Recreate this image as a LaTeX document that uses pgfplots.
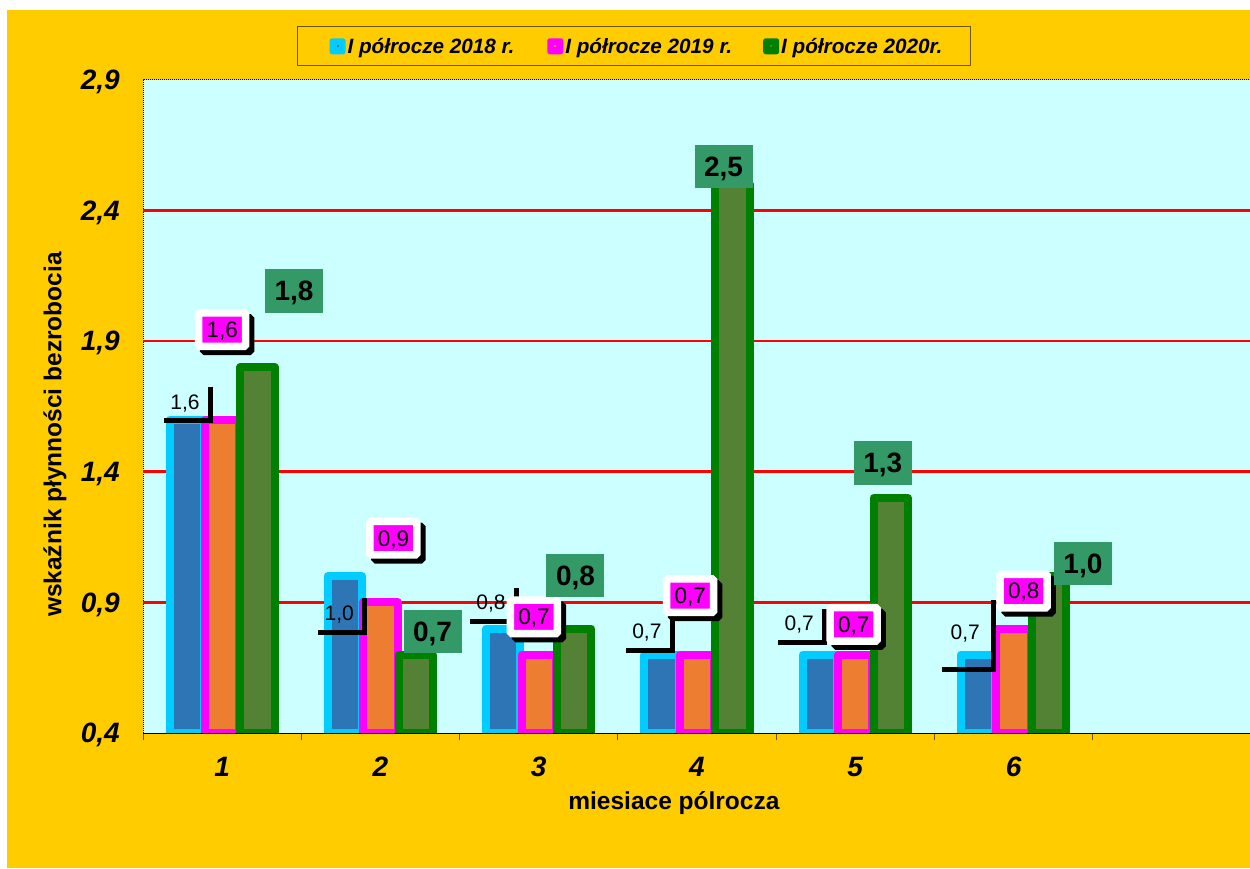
\documentclass[border=0pt]{standalone}
\usepackage{fontspec}
\setmainfont{Liberation Sans}
\usepackage{pgfplots}
\usepackage{pgfplotstable}
\pgfplotsset{compat=1.18}
\usetikzlibrary{shadows}

\definecolor{bgyellow}{HTML}{FFCC00}
\definecolor{plotbg}{HTML}{CCFFFF}
\definecolor{cyanB}{HTML}{00CCFF}
\definecolor{blueF}{HTML}{2E75B6}
\definecolor{magB}{HTML}{FF00FF}
\definecolor{orangeF}{HTML}{ED7D31}
\definecolor{greenB}{HTML}{008000}
\definecolor{greenF}{HTML}{548235}
\definecolor{labgreen}{HTML}{339966}
\definecolor{legborder}{HTML}{6B5500}

% 2018
\pgfplotstableread{
x y lab dx dy bw bh
1 1.6 1,6 -1.8 17.8 44 31
2 1.0 1,0 -5.8 -36.9 44 31
3 0.8 0,8 -12.3 26.0 44 31
4 0.7 0,7 -14.7 23.1 44 31
5 0.7 0,7 -20.7 31.4 44 31
6 0.7 0,7 -12.9 22.4 49 67
}\tA
% 2019
\pgfplotstableread{
x y lab dx dy
1 1.6 1,6 0.0 89.9
2 0.9 0,9 13.0 64.2
3 0.7 0,7 -4.8 37.8
4 0.7 0,7 -6.8 58.9
5 0.7 0,7 -1.6 30.3
6 0.8 0,8 10.2 37.5
}\tB
% 2020
\pgfplotstableread{
x y lab dx dy
1 1.8 1,8 36.5 76.3
2 0.7 0,7 16.7 23.1
3 0.8 0,8 1.4 52.8
4 2.5 2,5 -8.8 17.8
5 1.3 1,3 -7.9 34.9
6 1.0 1,0 34.0 13.0
}\tC

\begin{document}
\begin{tikzpicture}
\useasboundingbox (0,0) rectangle (1250pt,868pt);
\fill[white] (0,0) rectangle (1250pt,868pt);
\fill[bgyellow] (7pt,0) rectangle (1250pt,858pt);
\begin{axis}[
  at={(143pt,135pt)}, anchor=south west,
  scale only axis, width=1108pt, height=653pt,
  xmin=0.5, xmax=7.5, ymin=0.4, ymax=2.9,
  ybar, bar width=0.2167,
  axis background/.style={fill=plotbg},
  axis line style={black, line width=1pt, dash pattern=on 1pt off 1pt},
  tick align=outside,
  major tick length=0pt,
  minor tick length=7pt,
  xtick pos=left, ytick pos=left,
  xtick={1,2,3,4,5,6}, xticklabels={1,2,3,4,5,6},
  minor xtick={0.5,1.5,2.5,3.5,4.5,5.5,6.5,7.5},
  minor tick style={legborder, line width=1pt, solid},
  ytick={0.4,0.9,1.4,1.9,2.4,2.9},
  extra y ticks={0.9,1.4,1.9,2.4},
  extra y tick labels={},
  extra y tick style={grid=major},
  major grid style={red, line width=2.6pt, solid},
  /pgf/number format/assume math mode=true,
  yticklabel style={font=\bfseries\itshape\fontsize{28}{30}\selectfont, inner sep=0pt, xshift=-23pt, text depth=0pt,
    /pgf/number format/use comma, /pgf/number format/fixed, /pgf/number format/fixed zerofill, /pgf/number format/precision=1},
  xticklabel style={font=\bfseries\itshape\fontsize{28}{30}\selectfont, inner sep=0pt, anchor=north, yshift=-24pt, text depth=0pt},
  xlabel={miesiace pólrocza},
  ylabel={wskaźnik płynności bezrobocia},
  every axis x label/.style={at={(axis description cs:0.4792,-0.1179)}, anchor=base, font=\bfseries\fontsize{24.5}{26}\selectfont},
  every axis y label/.style={at={(axis description cs:-0.0737,0.4571)}, anchor=base, rotate=90, font=\bfseries\fontsize{24.5}{26}\selectfont},
  legend columns=3,
  legend style={at={(axis description cs:0.139,1.0827)}, anchor=north west, draw=legborder, line width=1pt, fill=bgyellow,
    inner xsep=0pt, inner ysep=7.5pt, column sep=0pt,
    font=\bfseries\itshape\fontsize{20.7}{22}\selectfont,
    nodes={inner sep=0pt, text height=19.3pt, text depth=4.3pt}},
]
\addplot[draw=cyanB, fill=blueF, line width=8pt, line join=round, bar shift=-0.2236,
  legend image code/.code={\path[draw=none,fill=none] (0pt,0pt) -- (50pt,0pt);
    \path[draw=none, fill=cyanB, rounded corners=2.5pt] (32pt,-8.5pt) rectangle (48pt,7.5pt);
    \path[draw=none, fill=blueF] (39pt,-1.5pt) rectangle (41pt,0.5pt);}]
  table[x=x,y=y]{\tA};
\addlegendentry{I półrocze 2018 r.}
\addplot[draw=magB, fill=orangeF, line width=8pt, line join=round, bar shift=0,
  legend image code/.code={\path[draw=none,fill=none] (0pt,0pt) -- (51pt,0pt);
    \path[draw=none, fill=magB, rounded corners=2.5pt] (33pt,-8.5pt) rectangle (49pt,7.5pt);
    \path[draw=none, fill=orangeF] (40pt,-1.5pt) rectangle (42pt,0.5pt);}]
  table[x=x,y=y]{\tB};
\addlegendentry{I półrocze 2019 r.}
\addplot[draw=greenB, fill=greenF, line width=8pt, line join=round, bar shift=0.2236,
  legend image code/.code={\path[draw=none,fill=none] (0pt,0pt) -- (49pt,0pt);
    \path[draw=none, fill=greenB, rounded corners=2.5pt] (31pt,-8.5pt) rectangle (47pt,7.5pt);
    \path[draw=none, fill=greenF] (38pt,-1.5pt) rectangle (40pt,0.5pt);}]
  table[x=x,y=y]{\tC};
\addlegendentry{I półrocze 2020r.\hspace*{28pt}}

% labels 2018
\addplot[forget plot, draw=none, fill=none, bar shift=-0.2236,
  nodes near coords, point meta=explicit symbolic,
  visualization depends on={\thisrow{dx}\as\dx},
  visualization depends on={\thisrow{dy}\as\dy},
  visualization depends on={\thisrow{bw}\as\bw},
  visualization depends on={\thisrow{bh}\as\bh},
  every node near coord/.append style={anchor=center, xshift=\dx, yshift=\dy, inner sep=0pt,
    minimum width=\bw, minimum height=\bh, text depth=0pt, text=black,
    font=\fontsize{21}{22}\selectfont,
    append after command={
      ([xshift=3.5pt,yshift=-3.5pt]\tikzlastnode.south west) edge[draw=black, solid, line width=5pt, line cap=rect]
      ([xshift=3.5pt,yshift=-3.5pt]\tikzlastnode.south east)
      ([xshift=3.5pt,yshift=-3.5pt]\tikzlastnode.south east) edge[draw=black, solid, line width=5pt, line cap=rect]
      ([xshift=3.5pt,yshift=-3.5pt]\tikzlastnode.north east)
    }}]
  table[x=x,y=y,meta=lab]{\tA};
% labels 2019
\addplot[forget plot, draw=none, fill=none, bar shift=0,
  nodes near coords, point meta=explicit symbolic,
  visualization depends on={\thisrow{dx}\as\dx},
  visualization depends on={\thisrow{dy}\as\dy},
  every node near coord/.append style={anchor=center, xshift=\dx, yshift=\dy, inner sep=0pt,
    minimum width=47pt, minimum height=33.5pt, text depth=0pt, text=black,
    fill=magB, draw=white, line width=7.5pt, rounded corners=1.5pt,
    drop shadow={shadow xshift=5pt, shadow yshift=-5pt, opacity=1, fill=black, draw=black, line width=7.5pt},
    font=\fontsize{22.5}{24}\selectfont}]
  table[x=x,y=y,meta=lab]{\tB};
% labels 2020
\addplot[forget plot, draw=none, fill=none, bar shift=0.2236,
  nodes near coords, point meta=explicit symbolic,
  visualization depends on={\thisrow{dx}\as\dx},
  visualization depends on={\thisrow{dy}\as\dy},
  every node near coord/.append style={anchor=center, xshift=\dx, yshift=\dy, inner sep=0pt,
    minimum width=58pt, minimum height=43.5pt, text depth=0pt, text=black,
    fill=labgreen, draw=none,
    font=\bfseries\fontsize{28}{30}\selectfont}]
  table[x=x,y=y,meta=lab]{\tC};
\draw[black, line width=1pt] (rel axis cs:0,0) -- (rel axis cs:1,0);
\end{axis}
\end{tikzpicture}
\end{document}
